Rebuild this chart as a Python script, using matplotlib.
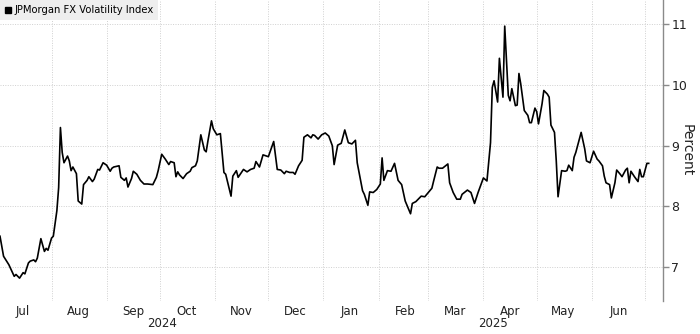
import matplotlib
matplotlib.use("Agg")
import matplotlib.pyplot as plt
import matplotlib.dates as mdates
import matplotlib.transforms as mtransforms
from matplotlib.lines import Line2D
import pandas as pd

# JPMorgan FX Volatility Index
dates = [
    "2024-07-03", "2024-07-05", "2024-07-08", "2024-07-11", "2024-07-12", "2024-07-14",
    "2024-07-16", "2024-07-17", "2024-07-19", "2024-07-20", "2024-07-22", "2024-07-23",
    "2024-07-24", "2024-07-26", "2024-07-28", "2024-07-29", "2024-07-30", "2024-08-01",
    "2024-08-02", "2024-08-04", "2024-08-05", "2024-08-06", "2024-08-07", "2024-08-08",
    "2024-08-10", "2024-08-11", "2024-08-12", "2024-08-13", "2024-08-15", "2024-08-16",
    "2024-08-18", "2024-08-19", "2024-08-21", "2024-08-22", "2024-08-24", "2024-08-25",
    "2024-08-27", "2024-08-28", "2024-08-30", "2024-09-01", "2024-09-03", "2024-09-04",
    "2024-09-05", "2024-09-08", "2024-09-09", "2024-09-11", "2024-09-12", "2024-09-13",
    "2024-09-15", "2024-09-16", "2024-09-18", "2024-09-20", "2024-09-22", "2024-09-24",
    "2024-09-27", "2024-09-29", "2024-09-30", "2024-10-02", "2024-10-04", "2024-10-06",
    "2024-10-07", "2024-10-09", "2024-10-10", "2024-10-11", "2024-10-12", "2024-10-14",
    "2024-10-16", "2024-10-18", "2024-10-19", "2024-10-21", "2024-10-22", "2024-10-24",
    "2024-10-26", "2024-10-27", "2024-10-28", "2024-10-30", "2024-10-31", "2024-11-02",
    "2024-11-04", "2024-11-06", "2024-11-07", "2024-11-10", "2024-11-11", "2024-11-13",
    "2024-11-14", "2024-11-17", "2024-11-19", "2024-11-21", "2024-11-23", "2024-11-24",
    "2024-11-26", "2024-11-28", "2024-12-01", "2024-12-04", "2024-12-06", "2024-12-08",
    "2024-12-10", "2024-12-11", "2024-12-13", "2024-12-15", "2024-12-16", "2024-12-18",
    "2024-12-20", "2024-12-21", "2024-12-23", "2024-12-25", "2024-12-26", "2024-12-27",
    "2024-12-29", "2024-12-31", "2025-01-02", "2025-01-04", "2025-01-06", "2025-01-07",
    "2025-01-09", "2025-01-11", "2025-01-13", "2025-01-15", "2025-01-17", "2025-01-19",
    "2025-01-20", "2025-01-23", "2025-01-24", "2025-01-26", "2025-01-27", "2025-01-29",
    "2025-01-31", "2025-02-02", "2025-02-03", "2025-02-04", "2025-02-06", "2025-02-08",
    "2025-02-10", "2025-02-12", "2025-02-14", "2025-02-16", "2025-02-19", "2025-02-20",
    "2025-02-22", "2025-02-25", "2025-02-27", "2025-03-01", "2025-03-03", "2025-03-04",
    "2025-03-06", "2025-03-07", "2025-03-09", "2025-03-12", "2025-03-13", "2025-03-15",
    "2025-03-17", "2025-03-19", "2025-03-20", "2025-03-23", "2025-03-25", "2025-03-27",
    "2025-03-29", "2025-04-01", "2025-04-03", "2025-04-05", "2025-04-06", "2025-04-07",
    "2025-04-09", "2025-04-10", "2025-04-12", "2025-04-13", "2025-04-15", "2025-04-16",
    "2025-04-17", "2025-04-19", "2025-04-20", "2025-04-21", "2025-04-22", "2025-04-24",
    "2025-04-26", "2025-04-27", "2025-04-28", "2025-04-30", "2025-05-01", "2025-05-02",
    "2025-05-04", "2025-05-05", "2025-05-07", "2025-05-08", "2025-05-09", "2025-05-11",
    "2025-05-12", "2025-05-13", "2025-05-15", "2025-05-17", "2025-05-18", "2025-05-19",
    "2025-05-21", "2025-05-22", "2025-05-23", "2025-05-25", "2025-05-26", "2025-05-28",
    "2025-05-29", "2025-05-31", "2025-06-02", "2025-06-04", "2025-06-05", "2025-06-07",
    "2025-06-08", "2025-06-09", "2025-06-11", "2025-06-12", "2025-06-14", "2025-06-15",
    "2025-06-17", "2025-06-18", "2025-06-20", "2025-06-21", "2025-06-22", "2025-06-23",
    "2025-06-25", "2025-06-27", "2025-06-28", "2025-06-29", "2025-06-30", "2025-07-02",
    "2025-07-03",
]
values = [
    7.51, 7.18, 7.04, 6.85, 6.88, 6.82,
    6.91, 6.89, 7.07, 7.10, 7.12, 7.09,
    7.15, 7.47, 7.26, 7.31, 7.28, 7.48,
    7.51, 7.93, 8.31, 9.30, 8.89, 8.72,
    8.83, 8.75, 8.59, 8.65, 8.54, 8.09,
    8.04, 8.36, 8.43, 8.49, 8.41, 8.45,
    8.61, 8.60, 8.72, 8.68, 8.58, 8.63,
    8.65, 8.67, 8.48, 8.43, 8.47, 8.32,
    8.46, 8.58, 8.53, 8.43, 8.37, 8.37,
    8.36, 8.48, 8.59, 8.86, 8.78, 8.69,
    8.74, 8.72, 8.49, 8.57, 8.52, 8.46,
    8.54, 8.58, 8.64, 8.67, 8.75, 9.18,
    8.93, 8.90, 9.08, 9.41, 9.28, 9.18,
    9.20, 8.56, 8.53, 8.17, 8.50, 8.59,
    8.48, 8.61, 8.57, 8.61, 8.63, 8.74,
    8.65, 8.85, 8.82, 9.07, 8.61, 8.60,
    8.54, 8.58, 8.56, 8.56, 8.53, 8.67,
    8.76, 9.14, 9.18, 9.13, 9.18, 9.17,
    9.11, 9.18, 9.21, 9.16, 9.00, 8.69,
    9.01, 9.04, 9.26, 9.05, 9.03, 9.09,
    8.72, 8.26, 8.20, 8.02, 8.24, 8.23,
    8.28, 8.37, 8.80, 8.43, 8.59, 8.58,
    8.71, 8.43, 8.36, 8.09, 7.88, 8.05,
    8.08, 8.17, 8.16, 8.23, 8.30, 8.42,
    8.65, 8.63, 8.63, 8.70, 8.39, 8.23,
    8.12, 8.12, 8.20, 8.27, 8.23, 8.05,
    8.23, 8.47, 8.42, 9.05, 9.96, 10.07,
    9.72, 10.44, 9.80, 10.97, 9.83, 9.74,
    9.94, 9.66, 9.67, 10.19, 10.02, 9.58,
    9.50, 9.38, 9.38, 9.62, 9.56, 9.36,
    9.69, 9.91, 9.85, 9.80, 9.34, 9.22,
    8.75, 8.16, 8.59, 8.58, 8.59, 8.68,
    8.59, 8.81, 8.89, 9.11, 9.22, 8.95,
    8.75, 8.72, 8.91, 8.78, 8.75, 8.67,
    8.50, 8.39, 8.36, 8.14, 8.39, 8.60,
    8.53, 8.49, 8.60, 8.63, 8.39, 8.58,
    8.49, 8.41, 8.61, 8.49, 8.49, 8.71,
    8.71,
]
series_name = "JPMorgan FX Volatility Index"
y_ticks = [7, 8, 9, 10, 11]
years = ["2024", "2025"]

x = pd.to_datetime(dates)

fig = plt.figure(figsize=(7.0, 3.34), dpi=100)
ax = fig.add_axes([0.0, 0.10, 0.947, 0.90])

ax.plot(x, values, color="black", lw=1.2)

x_left = x[0]
x_right = pd.Timestamp("2025-07-11")
ax.set_xlim(x_left, x_right)
ax.set_ylim(6.45, 11.40)

# spines: only the right one
for side in ["top", "left", "bottom"]:
    ax.spines[side].set_visible(False)
ax.spines["right"].set_color("#8a8a8a")
ax.spines["right"].set_linewidth(1.0)

ax.yaxis.tick_right()
ax.yaxis.set_label_position("right")
ax.set_yticks(y_ticks)
ax.tick_params(axis="y", direction="out", length=4, width=1, color="#8a8a8a",
               labelsize=9, labelcolor="#222222", pad=2)
ax.set_ylabel("Percent", rotation=270, labelpad=5, fontsize=10, color="#222222")

# months: grid at month starts, labels in the middle
ax.xaxis.set_major_locator(mdates.MonthLocator())
ax.xaxis.set_major_formatter(plt.NullFormatter())
ax.xaxis.set_minor_locator(mdates.MonthLocator(bymonthday=16))
ax.xaxis.set_minor_formatter(mdates.DateFormatter("%b"))
ax.tick_params(axis="x", which="both", length=0, labelsize=8.5, labelcolor="#222222", pad=3)

ax.grid(True, which="major", axis="both", color="#d0d0d0", linestyle=(0, (1, 1.5)), lw=0.7)

# year labels centred over their span
trans = mtransforms.blended_transform_factory(ax.transData, ax.transAxes)
year_start = pd.Timestamp("2025-01-01")
mid_2024 = x_left + (year_start - x_left) / 2
mid_2025 = year_start + (x_right - year_start) / 2
for yr, mid in zip(years, [mid_2024, mid_2025]):
    ax.text(mid, -0.077, yr, transform=trans, ha="center", va="center",
            fontsize=8.5, color="#222222")

# legend box top-left
handle = Line2D([], [], marker="s", color="black", lw=0, markersize=5)
leg = ax.legend([handle], [series_name], loc="upper left", bbox_to_anchor=(0.0, 1.0),
                borderaxespad=0, frameon=True, fontsize=7.2, handlelength=0.6,
                handletextpad=0.3, borderpad=0.5, fancybox=False)
leg.get_frame().set_facecolor("#eeeeee")
leg.get_frame().set_edgecolor("none")
leg.get_frame().set_alpha(1)

fig.savefig("out.png", dpi=100)
